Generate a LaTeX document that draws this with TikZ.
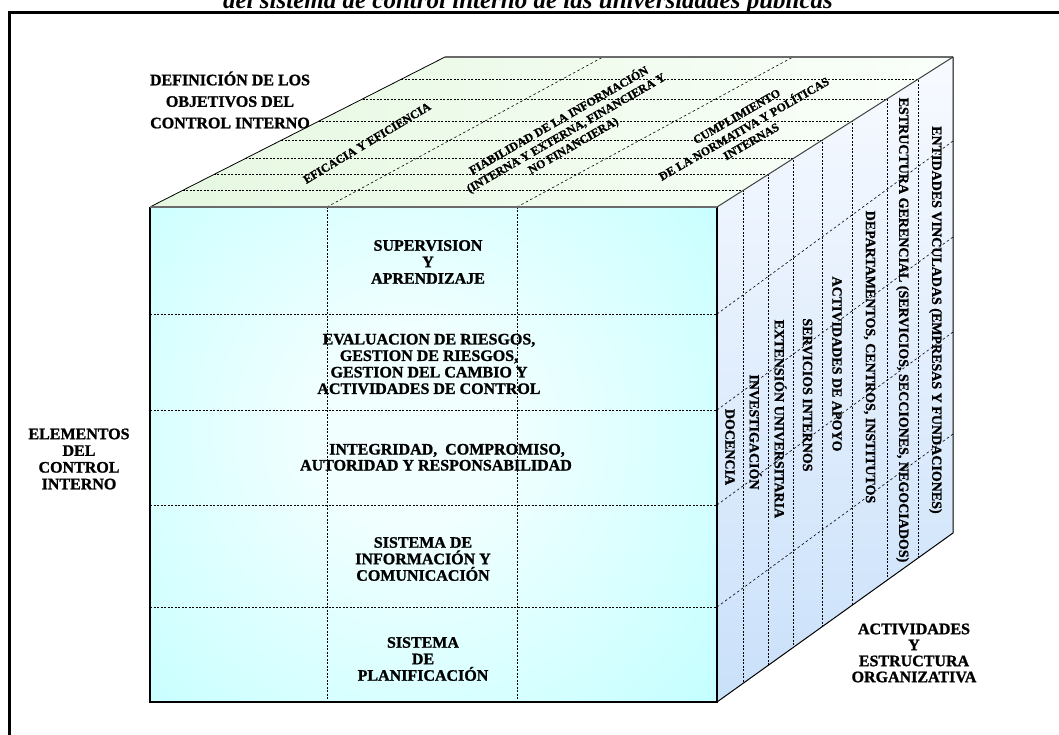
\documentclass[tikz,border=0pt]{standalone}
\usepackage{fontspec}
\setmainfont{Liberation Serif}[BoldFeatures={FakeBold=1.2}]
\definecolor{frontin}{rgb}{0.95,1,1}
\definecolor{frontout}{rgb}{0.52,1,1}
\definecolor{topleft}{rgb}{0.90,0.97,0.88}
\definecolor{topright}{rgb}{0.98,1,0.98}
\definecolor{sidetop}{rgb}{0.97,0.98,1}
\definecolor{sidebot}{rgb}{0.79,0.88,0.98}
\definecolor{edgegray}{rgb}{0.42,0.42,0.42}
\pgfdeclareradialshading{frontshade}{\pgfpoint{0bp}{0bp}}{color(0bp)=(frontin); color(5bp)=(frontin); color(50bp)=(frontout)}
\begin{document}
\begin{tikzpicture}[x=1pt,y=-1pt,
  gline/.style={line width=0.6pt, dash pattern=on 2pt off 1.5pt},
  sline/.style={line width=0.6pt, dash pattern=on 2.5pt off 2.5pt},
  lbl/.style={font=\fontsize{16}{16.5}\selectfont\bfseries, align=center, inner sep=0pt},
  toplbl/.style={font=\fontsize{12}{14.5}\selectfont\bfseries, align=center, inner sep=0pt},
  vlbl/.style={font=\fontsize{14}{16}\selectfont\bfseries, rotate=-90, inner sep=0pt}]
\useasboundingbox (0,0) rectangle (1059,735);

% corners
\coordinate (FTL) at (150,207);
\coordinate (FTR) at (717,207);
\coordinate (FBR) at (717,702);
\coordinate (FBL) at (150,702);
\coordinate (TBL) at (445,57);
\coordinate (TBR) at (953,57);
\coordinate (RBR) at (953,533);

% frame
\draw[line width=3pt] (9.7,745) -- (9.7,12.5) -- (1070,12.5);

% caption (cut at top)
\node[font=\fontsize{25}{25}\selectfont\bfseries\itshape, anchor=base, inner sep=0pt] (cap) at (528,9) {del sistema de control interno de las universidades públicas};

% faces
\shade[left color=topleft, right color=topright] (FTL) -- (FTR) -- (TBR) -- (TBL) -- cycle;
\shade[top color=sidetop, bottom color=sidebot] (FTR) -- (TBR) -- (RBR) -- (FBR) -- cycle;
\begin{scope}
  \clip (FTL) -- (FTR) -- (FBR) -- (FBL) -- cycle;
  \shade[shading=frontshade] (-20,0) rectangle (840,860);
\end{scope}

% top face / right face grid
\foreach \c [count=\i] in {743,768,793,822,852,887,918}{
  \pgfmathsetmacro\yt{207-(\c-717)/236*150}
  \pgfmathsetmacro\yb{702-(\c-717)/236*169}
  \pgfmathsetmacro\xl{150+(\c-717)/236*295}
  \coordinate (hl\i) at (\xl,\yt);
  \coordinate (hr\i) at (\c,\yt);
  \coordinate (vb\i) at (\c,\yb);
  \draw[gline] (hl\i) -- (hr\i) -- (vb\i);
}
\coordinate (tc1) at (603,57);
\coordinate (tc2) at (793,57);
\coordinate (fc1) at (327,207);
\coordinate (fc2) at (517,207);
\coordinate (fb1) at (327,702);
\coordinate (fb2) at (517,702);
\draw[sline] (fc1) -- (tc1);
\draw[sline] (fc2) -- (tc2);
\draw[gline] (fc1) -- (fb1);
\draw[gline] (fc2) -- (fb2);

% front rows and right face rows
\foreach \y [count=\i] in {314,410,505,607}{
  \coordinate (rl\i) at (150,\y);
  \coordinate (rm\i) at (717,\y);
  \coordinate (rr\i) at (953,\y-173);
  \draw[gline] (rl\i) -- (rm\i);
  \draw[sline] (rm\i) -- (rr\i);
}

% outlines
\draw[black, line width=0.8pt] (FTL) -- (TBL);
\draw[edgegray, line width=1.8pt] (TBL) -- (TBR);
\draw[black!75, line width=1pt] (FTR) -- (TBR);
\draw[black, line width=1pt] (TBR) -- (RBR) -- (FBR);
\draw[black, line width=1.4pt] (FTR) -- (FBR) -- (FBL) -- (FTL);
\draw[edgegray, line width=1.8pt] (FTL) -- (FTR);

% side labels
\node[font=\fontsize{16}{21.5}\selectfont\bfseries, align=center, inner sep=0pt] (def) at (230,100) {DEFINICIÓN DE LOS\\OBJETIVOS DEL\\CONTROL INTERNO};
\node[font=\fontsize{16}{16.7}\selectfont\bfseries, align=center, inner sep=0pt] (elem) at (79,459) {ELEMENTOS\\DEL\\CONTROL\\INTERNO};
\node[font=\fontsize{16}{16}\selectfont\bfseries, align=center, inner sep=0pt] (act) at (914,653) {ACTIVIDADES\\Y\\ESTRUCTURA\\ORGANIZATIVA};

% front labels
\node[lbl] (sup) at (428,262) {SUPERVISION\\Y\\APRENDIZAJE};
\node[lbl] (eval) at (429,364) {EVALUACION DE RIESGOS,\\GESTION DE RIESGOS,\\GESTION DEL CAMBIO Y\\ACTIVIDADES DE CONTROL};
\node[lbl, anchor=base] (int1) at (447,454.5) {INTEGRIDAD,\ \ COMPROMISO,};
\node[lbl, anchor=base] (int2) at (436,470.5) {AUTORIDAD Y RESPONSABILIDAD};
\node[lbl] (sis) at (423,559) {SISTEMA DE\\INFORMACIÓN Y\\COMUNICACIÓN};
\node[lbl] (pla) at (423,659) {SISTEMA\\DE\\PLANIFICACIÓN};

% top labels
\node[toplbl, rotate=31] (efi) at (367,143) {EFICACIA Y EFICIENCIA};
\node[toplbl, rotate=30] (fia) at (566,133) {FIABILIDAD DE LA INFORMACIÓN\\(INTERNA Y EXTERNA, FINANCIERA Y\\NO FINANCIERA)};
\node[toplbl, rotate=30] (cum) at (744,129) {CUMPLIMIENTO\\DE LA NORMATIVA Y POLÍTICAS\\INTERNAS};

% right face labels
\node[vlbl] (v1) at (730,447) {DOCENCIA};
\node[vlbl] (v2) at (755.5,432) {INVESTIGACIÓN};
\node[vlbl] (v3) at (780.5,419) {EXTENSIÓN UNIVERSITARIA};
\node[vlbl] (v4) at (807.5,395) {SERVICIOS INTERNOS};
\node[vlbl] (v5) at (837,364) {ACTIVIDADES DE APOYO};
\node[vlbl] (v6) at (869.5,357) {DEPARTAMENTOS, CENTROS, INSTITUTOS};
\node[vlbl] (v7) at (902.5,330) {ESTRUCTURA GERENCIAL (SERVICIOS, SECCIONES, NEGOCIADOS)};
\node[vlbl] (v8) at (935.5,320) {ENTIDADES VINCULADAS (EMPRESAS Y FUNDACIONES)};
\end{tikzpicture}
\end{document}
